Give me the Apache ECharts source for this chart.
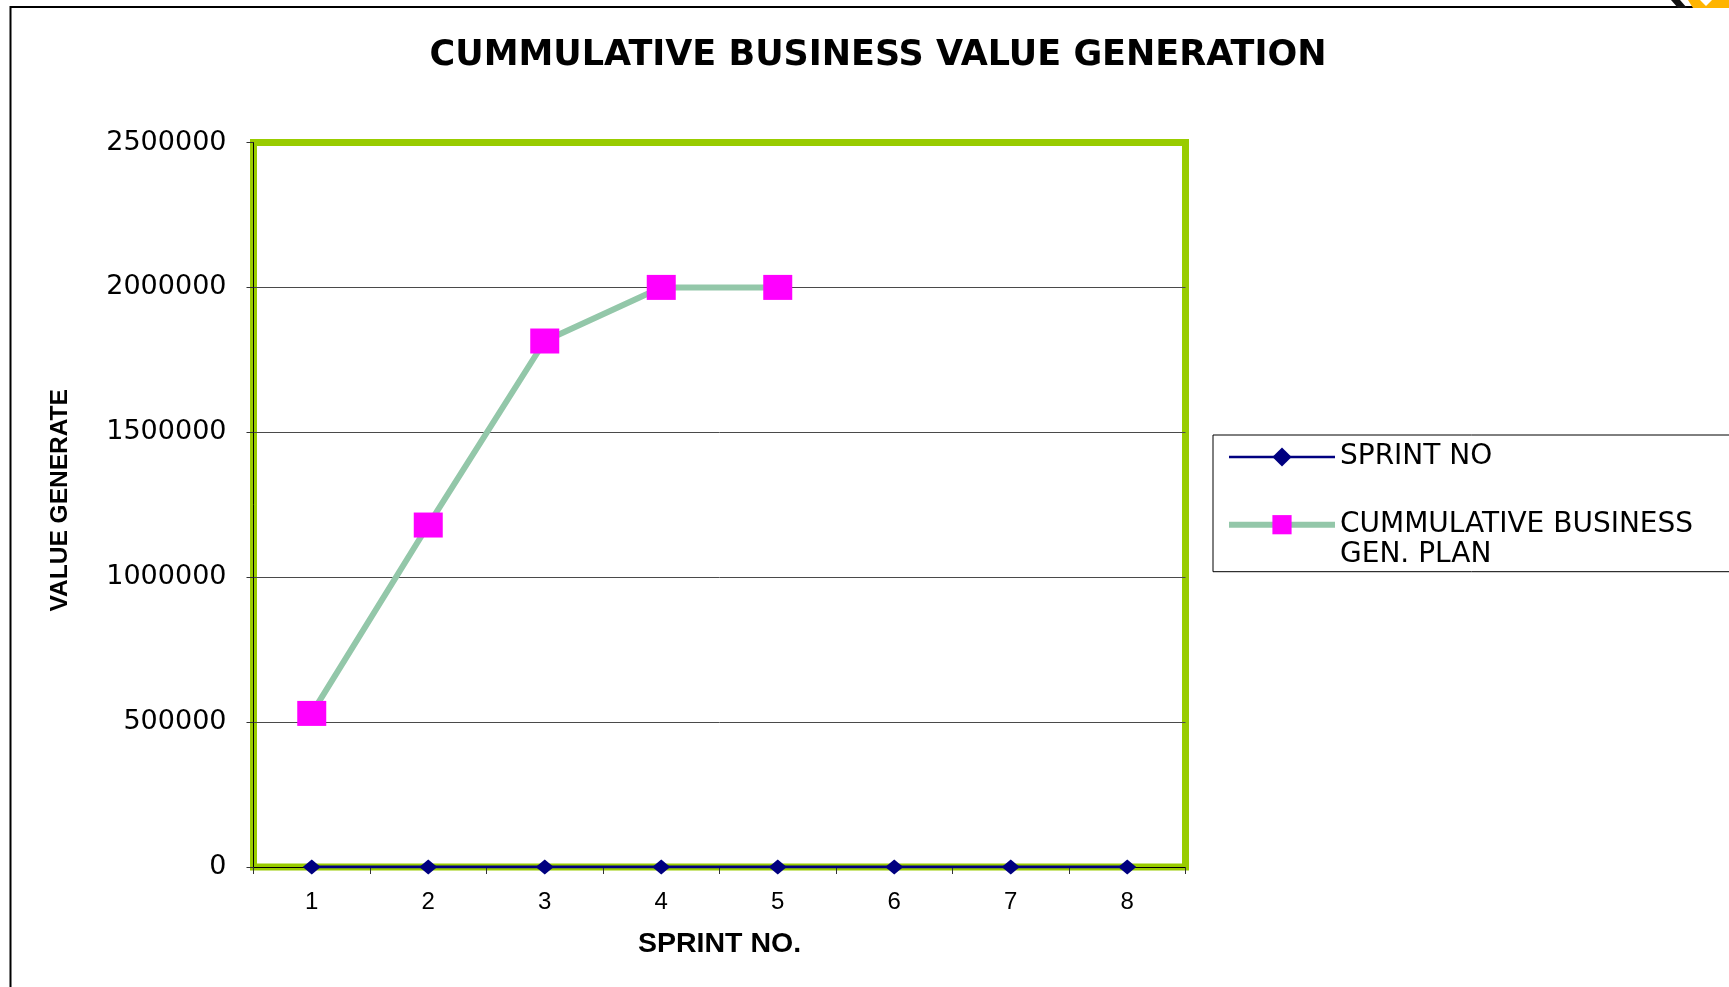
<!DOCTYPE html>
<html>
<head>
<meta charset="utf-8">
<title>Cummulative Business Value Generation</title>
<script src="https://cdn.jsdelivr.net/npm/echarts@6/dist/echarts.min.js"></script>
<style>
  html, body { margin: 0; padding: 0; background: #ffffff; }
  #chart { width: 1729px; height: 987px; }
</style>
</head>
<body>
<div id="chart"></div>
<script>
// Sprint categories along the x axis
const sprints = ['1', '2', '3', '4', '5', '6', '7', '8'];
// First series: the sprint numbers themselves (sit on the zero line at this scale)
const sprintNo = [1, 2, 3, 4, 5, 6, 7, 8];
// Second series: cumulative business value planned per sprint
const cumulativePlan = [530000, 1180000, 1815000, 2000000, 2000000, null, null, null];
// Value axis range and step
const yMin = 0;
const yMax = 2500000;
const yStep = 500000;

const seriesNames = ['SPRINT NO', 'CUMMULATIVE BUSINESS\nGEN. PLAN'];

const chart = echarts.init(document.getElementById('chart'), null, { renderer: 'canvas' });

chart.setOption({
  animation: false,
  backgroundColor: '#ffffff',
  title: {
    text: 'CUMMULATIVE BUSINESS VALUE GENERATION',
    left: 878,
    top: 38,
    textAlign: 'center',
    padding: 0,
    textStyle: {
      fontFamily: 'DejaVu Sans',
      fontWeight: 'bold',
      fontSize: 35,
      color: '#000000'
    }
  },
  grid: {
    left: 253.5,
    right: 543.5,
    top: 142.5,
    bottom: 120,
    show: true,
    borderColor: '#99cc00',
    borderWidth: 7,
    backgroundColor: 'transparent',
    containLabel: false
  },
  legend: {
    orient: 'vertical',
    left: 1213,
    top: 435,
    padding: [7, 90, 2, 13],
    itemWidth: 106,
    itemHeight: 24,
    itemGap: 7.7,
    borderColor: '#000000',
    borderWidth: 1,
    borderRadius: 0,
    selectedMode: false,
    // a two-line entry gets a blank lead line so its first line sits level with the icon
    formatter: function (name) {
      return name.indexOf('\n') >= 0 ? '\n' + name : name;
    },
    textStyle: {
      fontFamily: 'DejaVu Sans',
      fontSize: 28,
      lineHeight: 30,
      color: '#000000'
    },
    data: [
      { name: seriesNames[0], lineStyle: { width: 2.5 } },
      { name: seriesNames[1], lineStyle: { width: 6 } }
    ]
  },
  xAxis: {
    type: 'category',
    data: sprints,
    boundaryGap: true,
    name: 'SPRINT NO.',
    nameLocation: 'middle',
    nameGap: 63,
    nameTextStyle: {
      fontFamily: 'Liberation Sans',
      fontWeight: 'bold',
      fontSize: 28.5,
      color: '#000000'
    },
    axisLine: { show: true, lineStyle: { color: '#000000', width: 1 } },
    axisTick: { show: true, length: 7, lineStyle: { color: '#333333', width: 1 } },
    axisLabel: {
      margin: 23,
      fontFamily: 'Liberation Sans',
      fontSize: 24,
      color: '#000000'
    },
    splitLine: { show: false }
  },
  yAxis: {
    type: 'value',
    min: yMin,
    max: yMax,
    interval: yStep,
    name: 'VALUE GENERATE',
    nameLocation: 'middle',
    nameRotate: 90,
    nameGap: 181,
    nameTextStyle: {
      fontFamily: 'Liberation Sans',
      fontWeight: 'bold',
      fontSize: 24.5,
      color: '#000000',
      padding: [0, 0, 0, 9]
    },
    axisLine: { show: true, lineStyle: { color: '#000000', width: 1 } },
    axisTick: { show: true, length: 7, lineStyle: { color: '#333333', width: 1 } },
    axisLabel: {
      margin: 27,
      fontFamily: 'DejaVu Sans',
      fontSize: 27,
      color: '#000000',
      formatter: function (v) { return String(v); }
    },
    splitLine: {
      show: true,
      showMinLine: false,
      showMaxLine: false,
      lineStyle: { color: '#4a4a4a', width: 1 }
    }
  },
  series: [
    {
      name: seriesNames[0],
      type: 'line',
      data: sprintNo,
      symbol: 'diamond',
      symbolSize: [18, 15],
      lineStyle: { color: '#000080', width: 3 },
      itemStyle: { color: '#000080', borderWidth: 0 },
      emphasis: { disabled: true },
      z: 3
    },
    {
      name: seriesNames[1],
      type: 'line',
      data: cumulativePlan,
      connectNulls: false,
      symbol: 'rect',
      symbolSize: [29, 25],
      lineStyle: { color: '#93c7a9', width: 6 },
      itemStyle: { color: '#ff00ff', borderWidth: 0 },
      emphasis: { disabled: true },
      z: 4
    }
  ],
  graphic: [
    {
      type: 'rect',
      silent: true,
      shape: { x: 10.5, y: 7, width: 2000, height: 2000 },
      style: { fill: null, stroke: '#000000', lineWidth: 2 },
      z: 0
    },
    {
      type: 'polygon',
      silent: true,
      shape: { points: [[1671, 0], [1680, 0], [1687, 8], [1678, 8]] },
      style: { fill: '#111111' },
      z: 1
    },
    {
      type: 'polygon',
      silent: true,
      shape: { points: [[1688, 0], [1700, 0], [1706, 6], [1712, 0], [1729, 0], [1729, 8], [1693, 8]] },
      style: { fill: '#ffb400' },
      z: 1
    }
  ]
});
</script>
</body>
</html>
